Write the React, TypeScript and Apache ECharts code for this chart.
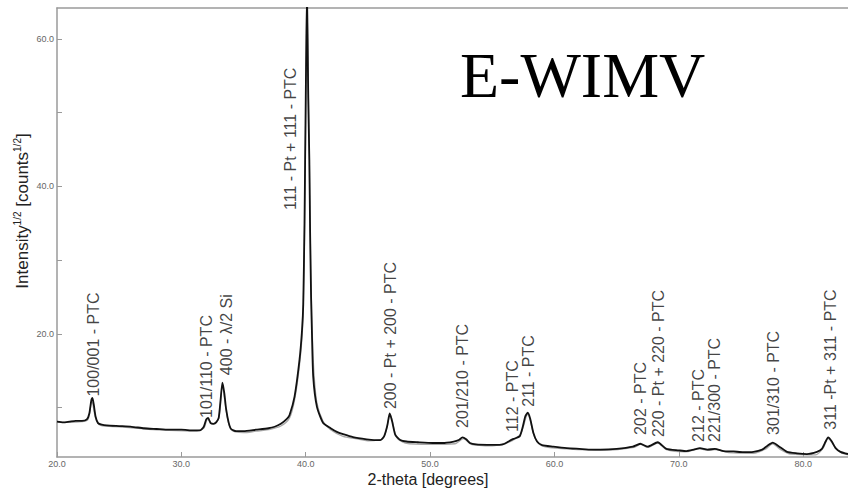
import React, { useEffect, useRef } from "react";
import * as echarts from "echarts";

// 2-theta (deg) positions and measured intensity^(1/2) values
const obsTheta = [
  20.0, 20.5, 21.0, 21.5, 22.0, 22.4, 22.6, 22.75, 22.85, 22.95, 23.1, 23.3, 23.6, 24.0, 25.0, 26.0, 27.0, 28.0, 29.0, 30.0,
  31.0, 31.5, 31.8, 32.0, 32.15, 32.35, 32.6, 32.8, 33.0, 33.15, 33.3, 33.45, 33.6, 33.8, 34.0, 34.4, 35.0, 36.0, 37.0, 37.5,
  38.0, 38.5, 38.7, 39.1, 39.5, 39.7, 39.8, 39.9, 39.95, 40.0, 40.05, 40.1, 40.15, 40.2, 40.29, 40.35, 40.43, 40.5, 40.6, 40.9,
  41.4, 42.0, 42.5, 43.0, 43.8, 44.9, 45.5, 46.0, 46.3, 46.55, 46.75, 46.95, 47.2, 47.6, 48.1, 49.0, 50.2, 51.0, 51.9, 52.3,
  52.6, 52.9, 53.2, 53.7, 54.6, 55.6, 56.0, 56.3, 56.7, 57.2, 57.45, 57.65, 57.85, 58.05, 58.3, 58.6, 59.0, 59.9, 61.0, 62.0,
  63.0, 63.7, 65.0, 66.3, 66.9, 67.5, 68.3, 69.0, 70.0, 70.6, 71.2, 71.7, 72.3, 72.9, 73.6, 74.4, 75.2, 76.0, 76.7, 77.1,
  77.55, 78.0, 78.7, 79.5, 80.3, 81.1, 81.5, 81.8, 82.0, 82.3, 82.6, 83.0, 83.6,
];
const obsValue = [
  8.1, 8.0, 8.1, 8.2, 8.2, 8.4, 9.2, 10.9, 11.3, 10.5, 8.8, 7.9, 7.7, 7.6, 7.5, 7.4, 7.2, 7.1, 7.0, 7.0,
  6.9, 6.9, 7.4, 8.4, 8.6, 7.9, 7.8, 8.0, 8.6, 11.0, 13.4, 12.0, 9.8, 8.0, 7.1, 6.8, 6.8, 7.0, 7.2, 7.4,
  7.8, 8.5, 9.0, 11.5, 16.5, 20.5, 24.0, 35.0, 43.6, 52.0, 60.0, 66.0, 60.0, 52.0, 43.6, 34.0, 25.0, 20.0, 14.2, 10.1,
  7.9, 7.2, 6.7, 6.4, 6.0, 5.7, 5.6, 5.6, 6.1, 7.5, 9.2, 8.1, 6.3, 5.6, 5.4, 5.3, 5.2, 5.2, 5.4, 5.6,
  5.95, 5.7, 5.2, 5.0, 4.95, 4.95, 5.1, 5.4, 5.75, 6.1, 7.4, 8.8, 9.3, 8.5, 6.6, 5.4, 4.9, 4.7, 4.5, 4.4,
  4.3, 4.3, 4.4, 4.7, 5.1, 4.7, 5.3, 4.4, 4.2, 4.1, 4.3, 4.5, 4.3, 4.4, 4.1, 4.05, 3.95, 4.0, 4.3, 4.8,
  5.25, 4.8, 4.0, 3.8, 3.7, 4.0, 4.4, 5.4, 5.95, 5.4, 4.5, 4.0, 3.7,
];

// refined (fitted) profile
const fitTheta = [
  20.0, 21.0, 22.0, 22.5, 22.8, 23.1, 23.5, 25.0, 27.0, 29.0, 31.0, 31.8, 32.1, 32.5, 33.0, 33.3, 33.6, 34.0, 35.0, 36.0,
  37.0, 38.0, 38.7, 39.1, 39.5, 39.75, 39.9, 40.0, 40.1, 40.2, 40.3, 40.4, 40.5, 40.65, 40.9, 41.4, 42.0, 43.0, 44.0, 45.0,
  46.2, 46.8, 47.3, 48.0, 50.0, 52.0, 52.7, 53.3, 55.0, 56.3, 56.8, 57.3, 57.85, 58.4, 59.0, 61.0, 64.0, 66.4, 66.9, 67.5,
  68.3, 69.0, 70.5, 71.7, 72.3, 72.9, 74.0, 76.0, 77.0, 77.55, 78.1, 79.0, 81.0, 81.6, 82.0, 82.5, 83.0, 83.6,
];
const fitValue = [
  8.0, 8.0, 8.1, 8.4, 10.9, 8.6, 7.6, 7.4, 7.1, 6.9, 6.8, 7.2, 8.4, 7.8, 8.5, 13.0, 9.6, 7.0, 6.6, 6.8,
  7.0, 7.5, 8.6, 11.0, 15.8, 21.0, 33.0, 50.0, 65.0, 56.0, 42.0, 29.0, 21.5, 15.0, 10.6, 8.1, 7.0, 6.1, 5.8, 5.5,
  5.8, 9.0, 6.0, 5.2, 5.0, 5.1, 5.8, 5.0, 4.8, 5.3, 5.7, 6.5, 9.1, 6.0, 4.8, 4.4, 4.2, 4.6, 5.0, 4.6,
  5.2, 4.3, 4.0, 4.4, 4.2, 4.3, 3.9, 3.8, 4.4, 5.1, 4.4, 3.7, 3.6, 4.5, 5.8, 4.8, 3.9, 3.6,
];

// reflection labels: name, 2-theta position, intensity at the label's lower end
const labelNames = [
  "100/001 - PTC", "101/110 - PTC", "400 - λ/2 Si", "111 - Pt + 111 - PTC", "200 - Pt + 200 - PTC",
  "201/210 - PTC", "112 - PTC", "211 - PTC", "202 - PTC", "220 - Pt + 220 - PTC",
  "212 - PTC", "221/300 - PTC", "301/310 - PTC", "311 -Pt + 311 - PTC",
];
const labelTheta = [22.9, 32.0, 33.6, 38.75, 46.8, 52.6, 56.6, 57.9, 66.9, 68.4, 71.6, 72.9, 77.6, 82.2];
const labelValue = [11.5, 8.6, 14.4, 36.8, 9.8, 7.25, 6.7, 10.1, 6.3, 6.0, 5.35, 5.35, 6.3, 7.0];

const xTicks = [20, 30, 40, 50, 60, 70, 80];
const yTicks = [10, 20, 30, 40, 50, 60];
const yTickLabels = [20, 40, 60];

export default function App() {
  const ref = useRef<HTMLDivElement>(null);
  useEffect(() => {
    if (!ref.current) return;
    const chart = echarts.init(ref.current, null, { renderer: "svg" });
    const axisGray = "#9a9a9a";
    const tickLabel = { color: "#666", fontSize: 9, fontFamily: "Liberation Sans" };
    chart.setOption({
      animation: false,
      backgroundColor: "#ffffff",
      grid: { left: 57, right: 0, top: 8, bottom: 31, containLabel: false },
      xAxis: [
        {
          type: "value",
          min: 20,
          max: 83.6,
          axisLine: { show: true, lineStyle: { color: axisGray, width: 1.5 } },
          axisTick: { show: true, inside: true, length: 5, customValues: xTicks, lineStyle: { color: axisGray } },
          axisLabel: {
            ...tickLabel,
            margin: 2,
            customValues: xTicks,
            formatter: (v: number) => v.toFixed(1),
          },
          splitLine: { show: false },
        },
        {
          type: "value",
          position: "top",
          min: 20,
          max: 83.6,
          axisLine: { show: true, lineStyle: { color: axisGray, width: 1.5 } },
          axisTick: { show: false },
          axisLabel: { show: false },
          splitLine: { show: false },
        },
      ],
      yAxis: {
        type: "value",
        min: 3.3,
        max: 64.2,
        axisLine: { show: true, lineStyle: { color: axisGray, width: 1.5 } },
        axisTick: { show: true, inside: true, length: 5, customValues: yTicks, lineStyle: { color: axisGray } },
        axisLabel: {
          ...tickLabel,
          margin: 3,
          customValues: yTickLabels,
          formatter: (v: number) => v.toFixed(1),
        },
        splitLine: { show: false },
      },
      graphic: [
        {
          type: "text",
          x: 460,
          y: 75,
          style: {
            text: "E-WIMV",
            fontFamily: "Liberation Serif",
            fontSize: 64,
            fill: "#000",
            align: "left",
            verticalAlign: "middle",
          },
        },
        {
          type: "text",
          x: 428,
          y: 479,
          style: {
            text: "2-theta [degrees]",
            fontFamily: "Liberation Sans",
            fontSize: 16,
            fill: "#222",
            align: "center",
            verticalAlign: "middle",
          },
        },
        {
          type: "text",
          x: 22,
          y: 211,
          rotation: Math.PI / 2,
          style: {
            text: "{m|Intensity}{s|1/2}{m| [counts}{s|1/2}{m|]}",
            align: "center",
            verticalAlign: "middle",
            fill: "#222",
            rich: {
              m: { fontFamily: "Liberation Sans", fontSize: 17, lineHeight: 20, fill: "#222" },
              s: { fontFamily: "Liberation Sans", fontSize: 10, lineHeight: 12, verticalAlign: "top", fill: "#222" },
            },
          },
        },
      ],
      series: [
        {
          type: "line",
          name: "fit",
          data: fitTheta.map((t, i) => [t, fitValue[i]]),
          showSymbol: false,
          smooth: 0.3,
          lineStyle: { color: "#a8a8a8", width: 1.3 },
          z: 2,
        },
        {
          type: "line",
          name: "observed",
          data: obsTheta.map((t, i) => [t, obsValue[i]]),
          showSymbol: false,
          smooth: 0.2,
          lineStyle: { color: "#111", width: 1.8 },
          z: 3,
        },
        {
          type: "scatter",
          name: "labels",
          data: labelTheta.map((t, i) => ({ name: labelNames[i], value: [t, labelValue[i]] })),
          symbolSize: 0,
          z: 4,
          label: {
            show: true,
            position: "top",
            distance: 0,
            rotate: 90,
            align: "left",
            verticalAlign: "middle",
            formatter: (p: any) => p.name,
            fontFamily: "Liberation Sans",
            fontSize: 16,
            color: "#111",
          },
        },
      ],
    });
    return () => chart.dispose();
  }, []);
  return (
    <div
      ref={ref}
      style={{ position: "absolute", left: 0, top: 0, width: 848, height: 488, background: "#fff" }}
    />
  );
}
